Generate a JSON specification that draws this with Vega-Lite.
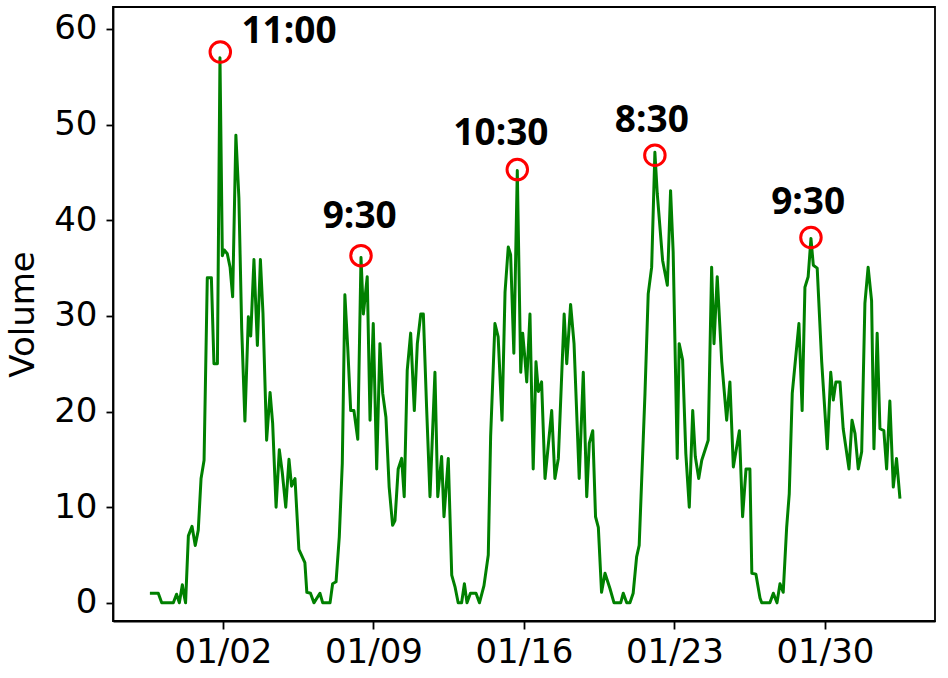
{
  "$schema": "https://vega.github.io/schema/vega-lite/v6.json",
  "width": 822,
  "height": 614,
  "autosize": {"type": "none"},
  "padding": {"left": 113, "top": 7, "right": 13, "bottom": 57},
  "background": "white",
  "config": {
    "font": "DejaVu Sans",
    "view": {"stroke": "black", "strokeWidth": 1.8},
    "axis": {"grid": false, "domainColor": "black", "domainWidth": 1.8, "tickColor": "black", "tickWidth": 1.8, "labelColor": "black", "labelFont": "DejaVu Sans", "labelFontSize": 34, "titleFont": "DejaVu Sans", "titleColor": "black"}
  },
  "datasets": {
    "volume": [
      {"t": "2019-12-29T14:24", "volume": 1.0},
      {"t": "2019-12-29T23:46", "volume": 1.0},
      {"t": "2019-12-30T03:36", "volume": 0},
      {"t": "2019-12-30T16:34", "volume": 0},
      {"t": "2019-12-30T20:10", "volume": 0.9},
      {"t": "2019-12-30T23:17", "volume": 0},
      {"t": "2019-12-31T02:38", "volume": 1.9},
      {"t": "2019-12-31T04:34", "volume": 0.8},
      {"t": "2019-12-31T06:14", "volume": 0},
      {"t": "2019-12-31T09:22", "volume": 7.0},
      {"t": "2019-12-31T13:26", "volume": 8.0},
      {"t": "2019-12-31T17:02", "volume": 6.0},
      {"t": "2019-12-31T20:24", "volume": 7.6},
      {"t": "2019-12-31T23:31", "volume": 13.0},
      {"t": "2020-01-01T02:53", "volume": 14.9},
      {"t": "2020-01-01T06:29", "volume": 34},
      {"t": "2020-01-01T11:02", "volume": 34},
      {"t": "2020-01-01T13:55", "volume": 25},
      {"t": "2020-01-01T17:46", "volume": 25},
      {"t": "2020-01-01T20:38", "volume": 57},
      {"t": "2020-01-01T23:17", "volume": 36.3},
      {"t": "2020-01-02T01:26", "volume": 36.9},
      {"t": "2020-01-02T04:48", "volume": 36.5},
      {"t": "2020-01-02T07:55", "volume": 35.1},
      {"t": "2020-01-02T10:48", "volume": 32},
      {"t": "2020-01-02T14:24", "volume": 48.9},
      {"t": "2020-01-02T17:46", "volume": 42.3},
      {"t": "2020-01-02T20:53", "volume": 28.7},
      {"t": "2020-01-03T00:29", "volume": 19.0},
      {"t": "2020-01-03T04:19", "volume": 29.9},
      {"t": "2020-01-03T06:58", "volume": 27.9},
      {"t": "2020-01-03T10:34", "volume": 35.9},
      {"t": "2020-01-03T14:24", "volume": 26.9},
      {"t": "2020-01-03T17:46", "volume": 35.9},
      {"t": "2020-01-03T20:38", "volume": 30.3},
      {"t": "2020-01-04T00:43", "volume": 17.0},
      {"t": "2020-01-04T04:34", "volume": 22.0},
      {"t": "2020-01-04T07:26", "volume": 18.8},
      {"t": "2020-01-04T11:17", "volume": 10.0},
      {"t": "2020-01-04T14:53", "volume": 16.0},
      {"t": "2020-01-04T18:14", "volume": 13.6},
      {"t": "2020-01-04T22:05", "volume": 10.0},
      {"t": "2020-01-05T01:41", "volume": 15.0},
      {"t": "2020-01-05T04:34", "volume": 12.2},
      {"t": "2020-01-05T08:24", "volume": 13.0},
      {"t": "2020-01-05T12:43", "volume": 5.6},
      {"t": "2020-01-05T19:26", "volume": 4.2},
      {"t": "2020-01-05T21:36", "volume": 1.1},
      {"t": "2020-01-06T01:41", "volume": 1.0},
      {"t": "2020-01-06T05:31", "volume": 0},
      {"t": "2020-01-06T12:14", "volume": 1.0},
      {"t": "2020-01-06T15:22", "volume": 0},
      {"t": "2020-01-06T23:31", "volume": 0},
      {"t": "2020-01-07T02:24", "volume": 2.0},
      {"t": "2020-01-07T06:14", "volume": 2.2},
      {"t": "2020-01-07T09:50", "volume": 6.9},
      {"t": "2020-01-07T13:12", "volume": 14.6},
      {"t": "2020-01-07T16:05", "volume": 32.2},
      {"t": "2020-01-07T19:12", "volume": 26.8},
      {"t": "2020-01-07T22:34", "volume": 20.1},
      {"t": "2020-01-08T02:10", "volume": 20.1},
      {"t": "2020-01-08T06:29", "volume": 17.1},
      {"t": "2020-01-08T10:05", "volume": 36.1},
      {"t": "2020-01-08T12:43", "volume": 30.2},
      {"t": "2020-01-08T17:02", "volume": 34.1},
      {"t": "2020-01-08T20:10", "volume": 19.1},
      {"t": "2020-01-08T23:46", "volume": 29.2},
      {"t": "2020-01-09T03:36", "volume": 14.0},
      {"t": "2020-01-09T07:12", "volume": 27.1},
      {"t": "2020-01-09T10:19", "volume": 21.9},
      {"t": "2020-01-09T13:55", "volume": 19.4},
      {"t": "2020-01-09T17:31", "volume": 12.1},
      {"t": "2020-01-09T21:22", "volume": 8.1},
      {"t": "2020-01-10T00:00", "volume": 8.6},
      {"t": "2020-01-10T03:36", "volume": 14.0},
      {"t": "2020-01-10T07:26", "volume": 15.1},
      {"t": "2020-01-10T10:19", "volume": 11.1},
      {"t": "2020-01-10T13:41", "volume": 24.3},
      {"t": "2020-01-10T17:31", "volume": 28.2},
      {"t": "2020-01-10T21:36", "volume": 20.1},
      {"t": "2020-01-11T00:58", "volume": 27.1},
      {"t": "2020-01-11T04:48", "volume": 30.2},
      {"t": "2020-01-11T07:41", "volume": 30.2},
      {"t": "2020-01-11T11:17", "volume": 20.5},
      {"t": "2020-01-11T15:07", "volume": 11.1},
      {"t": "2020-01-11T20:38", "volume": 24.1},
      {"t": "2020-01-11T23:46", "volume": 11.1},
      {"t": "2020-01-12T04:05", "volume": 15.3},
      {"t": "2020-01-12T06:43", "volume": 9.0},
      {"t": "2020-01-12T11:31", "volume": 15.1},
      {"t": "2020-01-12T15:22", "volume": 2.9},
      {"t": "2020-01-12T18:58", "volume": 1.7},
      {"t": "2020-01-12T22:34", "volume": 0},
      {"t": "2020-01-13T02:24", "volume": 0},
      {"t": "2020-01-13T05:31", "volume": 2.0},
      {"t": "2020-01-13T08:24", "volume": 0},
      {"t": "2020-01-13T12:14", "volume": 1.0},
      {"t": "2020-01-13T18:29", "volume": 1.0},
      {"t": "2020-01-13T22:19", "volume": 0},
      {"t": "2020-01-14T03:22", "volume": 1.8},
      {"t": "2020-01-14T08:10", "volume": 5.0},
      {"t": "2020-01-14T10:48", "volume": 17.4},
      {"t": "2020-01-14T15:36", "volume": 29.2},
      {"t": "2020-01-14T19:12", "volume": 27.8},
      {"t": "2020-01-14T23:31", "volume": 19.1},
      {"t": "2020-01-15T02:53", "volume": 32.5},
      {"t": "2020-01-15T06:29", "volume": 37.2},
      {"t": "2020-01-15T09:07", "volume": 36.4},
      {"t": "2020-01-15T12:43", "volume": 26.1},
      {"t": "2020-01-15T16:34", "volume": 45.2},
      {"t": "2020-01-15T20:24", "volume": 24.1},
      {"t": "2020-01-15T22:34", "volume": 28.2},
      {"t": "2020-01-16T01:12", "volume": 25.4},
      {"t": "2020-01-16T03:07", "volume": 23.1},
      {"t": "2020-01-16T06:43", "volume": 30.2},
      {"t": "2020-01-16T10:19", "volume": 14.0},
      {"t": "2020-01-16T13:26", "volume": 25.2},
      {"t": "2020-01-16T16:05", "volume": 22.1},
      {"t": "2020-01-16T19:41", "volume": 23.1},
      {"t": "2020-01-16T23:31", "volume": 13.0},
      {"t": "2020-01-17T06:58", "volume": 20.1},
      {"t": "2020-01-17T10:34", "volume": 13.0},
      {"t": "2020-01-17T14:24", "volume": 15.1},
      {"t": "2020-01-17T20:53", "volume": 30.2},
      {"t": "2020-01-17T23:46", "volume": 25.0},
      {"t": "2020-01-18T04:05", "volume": 31.2},
      {"t": "2020-01-18T07:55", "volume": 27.1},
      {"t": "2020-01-18T13:41", "volume": 13.0},
      {"t": "2020-01-18T18:14", "volume": 24.1},
      {"t": "2020-01-18T22:05", "volume": 11.1},
      {"t": "2020-01-19T00:58", "volume": 16.7},
      {"t": "2020-01-19T04:48", "volume": 18.0},
      {"t": "2020-01-19T07:55", "volume": 9.0},
      {"t": "2020-01-19T11:02", "volume": 7.9},
      {"t": "2020-01-19T14:38", "volume": 1.1},
      {"t": "2020-01-19T18:29", "volume": 3.1},
      {"t": "2020-01-20T00:00", "volume": 1.5},
      {"t": "2020-01-20T04:34", "volume": 0},
      {"t": "2020-01-20T12:00", "volume": 0},
      {"t": "2020-01-20T14:53", "volume": 1.0},
      {"t": "2020-01-20T18:43", "volume": 0},
      {"t": "2020-01-20T22:19", "volume": 0},
      {"t": "2020-01-21T01:55", "volume": 1.0},
      {"t": "2020-01-21T05:46", "volume": 4.8},
      {"t": "2020-01-21T08:38", "volume": 6.0},
      {"t": "2020-01-21T15:07", "volume": 21.9},
      {"t": "2020-01-21T18:43", "volume": 32.3},
      {"t": "2020-01-21T22:34", "volume": 35.1},
      {"t": "2020-01-22T02:10", "volume": 47.1},
      {"t": "2020-01-22T04:48", "volume": 42.8},
      {"t": "2020-01-22T10:48", "volume": 35.8},
      {"t": "2020-01-22T16:05", "volume": 33.2},
      {"t": "2020-01-22T19:41", "volume": 43.1},
      {"t": "2020-01-22T22:34", "volume": 36.7},
      {"t": "2020-01-23T03:07", "volume": 15.1},
      {"t": "2020-01-23T05:17", "volume": 27.1},
      {"t": "2020-01-23T09:07", "volume": 25.4},
      {"t": "2020-01-23T12:43", "volume": 15.6},
      {"t": "2020-01-23T16:34", "volume": 10.0},
      {"t": "2020-01-23T20:24", "volume": 20.1},
      {"t": "2020-01-23T23:17", "volume": 15.3},
      {"t": "2020-01-24T03:07", "volume": 13.0},
      {"t": "2020-01-24T06:29", "volume": 14.9},
      {"t": "2020-01-24T13:41", "volume": 17.0},
      {"t": "2020-01-24T17:31", "volume": 35.1},
      {"t": "2020-01-24T20:10", "volume": 27.1},
      {"t": "2020-01-24T23:46", "volume": 34.1},
      {"t": "2020-01-25T04:48", "volume": 25.2},
      {"t": "2020-01-25T10:19", "volume": 19.1},
      {"t": "2020-01-25T13:55", "volume": 23.1},
      {"t": "2020-01-25T17:46", "volume": 14.2},
      {"t": "2020-01-26T00:29", "volume": 18.0},
      {"t": "2020-01-26T04:05", "volume": 9.0},
      {"t": "2020-01-26T07:55", "volume": 14.0},
      {"t": "2020-01-26T12:14", "volume": 14.0},
      {"t": "2020-01-26T14:24", "volume": 3.1},
      {"t": "2020-01-26T18:58", "volume": 3.0},
      {"t": "2020-01-26T23:31", "volume": 0.5},
      {"t": "2020-01-27T01:26", "volume": 0},
      {"t": "2020-01-27T10:34", "volume": 0},
      {"t": "2020-01-27T14:24", "volume": 1.0},
      {"t": "2020-01-27T18:29", "volume": 0},
      {"t": "2020-01-27T21:50", "volume": 2.0},
      {"t": "2020-01-28T01:26", "volume": 1.1},
      {"t": "2020-01-28T05:17", "volume": 7.9},
      {"t": "2020-01-28T08:10", "volume": 11.4},
      {"t": "2020-01-28T11:31", "volume": 21.9},
      {"t": "2020-01-28T18:58", "volume": 29.2},
      {"t": "2020-01-28T22:34", "volume": 20.1},
      {"t": "2020-01-29T01:41", "volume": 33.0},
      {"t": "2020-01-29T05:17", "volume": 34.1},
      {"t": "2020-01-29T08:24", "volume": 38.1},
      {"t": "2020-01-29T11:02", "volume": 35.3},
      {"t": "2020-01-29T15:22", "volume": 35.0},
      {"t": "2020-01-29T20:24", "volume": 25.2},
      {"t": "2020-01-30T02:38", "volume": 16.1},
      {"t": "2020-01-30T06:29", "volume": 24.1},
      {"t": "2020-01-30T09:22", "volume": 21.2},
      {"t": "2020-01-30T12:14", "volume": 23.1},
      {"t": "2020-01-30T16:48", "volume": 23.1},
      {"t": "2020-01-30T20:24", "volume": 18.2},
      {"t": "2020-01-31T02:53", "volume": 14.0},
      {"t": "2020-01-31T06:14", "volume": 19.1},
      {"t": "2020-01-31T09:36", "volume": 17.7},
      {"t": "2020-01-31T13:12", "volume": 14.0},
      {"t": "2020-01-31T17:02", "volume": 15.8},
      {"t": "2020-01-31T20:38", "volume": 31.3},
      {"t": "2020-02-01T00:14", "volume": 35.1},
      {"t": "2020-02-01T04:05", "volume": 31.6},
      {"t": "2020-02-01T06:43", "volume": 16.1},
      {"t": "2020-02-01T10:19", "volume": 28.2},
      {"t": "2020-02-01T13:26", "volume": 18.2},
      {"t": "2020-02-01T17:46", "volume": 18.0},
      {"t": "2020-02-01T20:53", "volume": 14.0},
      {"t": "2020-02-02T00:29", "volume": 21.1},
      {"t": "2020-02-02T04:19", "volume": 12.1},
      {"t": "2020-02-02T07:55", "volume": 15.1},
      {"t": "2020-02-02T11:46", "volume": 10.9}
    ],
    "peaks": [
      {"t": "2020-01-01T21:00", "volume": 57.6},
      {"t": "2020-01-08T10:05", "volume": 36.3},
      {"t": "2020-01-15T16:34", "volume": 45.3},
      {"t": "2020-01-22T02:10", "volume": 46.8},
      {"t": "2020-01-29T08:24", "volume": 38.2}
    ],
    "labels": [
      {"t": "2020-01-05T01:41", "volume": 59.7, "label": "11:00"},
      {"t": "2020-01-08T08:38", "volume": 40.3, "label": "9:30"},
      {"t": "2020-01-14T22:19", "volume": 49.0, "label": "10:30"},
      {"t": "2020-01-21T22:48", "volume": 50.4, "label": "8:30"},
      {"t": "2020-01-29T05:17", "volume": 41.8, "label": "9:30"}
    ]
  },
  "layer": [
    {
      "data": {"name": "volume"},
      "mark": {"type": "line", "color": "#008000", "strokeWidth": 3, "strokeJoin": "round"},
      "encoding": {
        "x": {
          "field": "t", "type": "temporal",
          "scale": {"domain": [{"year": 2019, "month": 12, "date": 27, "hours": 21, "minutes": 13}, {"year": 2020, "month": 2, "date": 4, "hours": 2, "minutes": 53}]},
          "axis": {
            "title": null,
            "values": [{"year": 2020, "month": 1, "date": 2}, {"year": 2020, "month": 1, "date": 9}, {"year": 2020, "month": 1, "date": 16}, {"year": 2020, "month": 1, "date": 23}, {"year": 2020, "month": 1, "date": 30}],
            "format": "%m/%d",
            "tickSize": 8,
            "labelPadding": 6,
            "labelFlush": false,
            "labelOverlap": false
          }
        },
        "y": {
          "field": "volume", "type": "quantitative",
          "scale": {"domain": [-1.9, 62.3], "nice": false, "zero": false},
          "axis": {
            "title": "Volume",
            "values": [0, 10, 20, 30, 40, 50, 60],
            "tickSize": 7,
            "labelPadding": 9,
            "titleFontSize": 34,
            "titleFontWeight": "normal",
            "titleX": -80,
            "titleBaseline": "alphabetic"
          }
        }
      }
    },
    {
      "data": {"name": "peaks"},
      "mark": {"type": "point", "shape": "circle", "filled": false, "color": "#ff0000", "size": 420, "strokeWidth": 3, "opacity": 1},
      "encoding": {
        "x": {"field": "t", "type": "temporal"},
        "y": {"field": "volume", "type": "quantitative"}
      }
    },
    {
      "data": {"name": "labels"},
      "mark": {"type": "text", "font": "Open Sans", "fontWeight": "bold", "fontSize": 37, "align": "center", "baseline": "middle", "color": "black"},
      "encoding": {
        "x": {"field": "t", "type": "temporal"},
        "y": {"field": "volume", "type": "quantitative"},
        "text": {"field": "label"}
      }
    }
  ]
}
